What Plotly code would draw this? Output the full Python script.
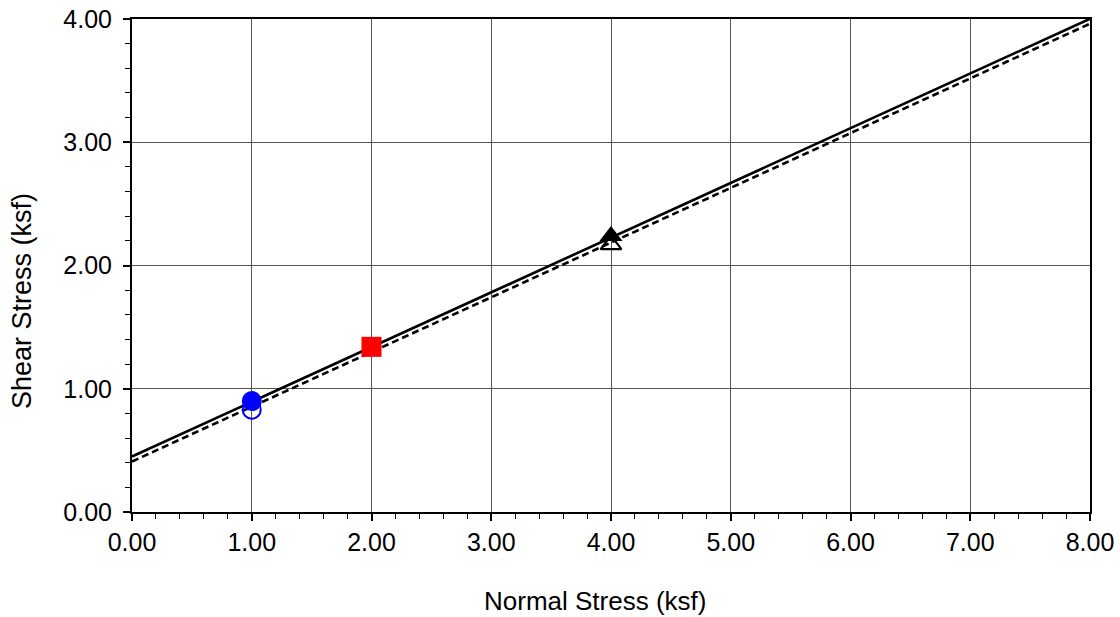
import plotly.graph_objects as go

# Data
x_circle = [1.0]
y_circle_filled = [0.90]
y_circle_open = [0.83]
x_square = [2.0]
y_square = [1.34]
x_tri = [4.0]
y_tri_filled = [2.24]
y_tri_open = [2.17]

line_x = [0.0, 8.0]
solid_intercept, solid_slope = 0.45, 0.444
dashed_intercept, dashed_slope = 0.41, 0.444

x_title = "Normal Stress (ksf)"
y_title = "Shear Stress (ksf)"

solid_y = [solid_intercept + solid_slope * v for v in line_x]
dashed_y = [dashed_intercept + dashed_slope * v for v in line_x]

fig = go.Figure()
fig.add_trace(go.Scatter(x=line_x, y=solid_y, mode="lines",
                         line=dict(color="black", width=2.6), showlegend=False))
fig.add_trace(go.Scatter(x=line_x, y=dashed_y, mode="lines",
                         line=dict(color="black", width=2.6, dash="7px,4px"), showlegend=False))

fig.add_trace(go.Scatter(x=x_circle, y=y_circle_open, mode="markers",
                         marker=dict(symbol="circle-open", size=18, color="blue", line=dict(width=2, color="blue")),
                         showlegend=False))
fig.add_trace(go.Scatter(x=x_circle, y=y_circle_filled, mode="markers",
                         marker=dict(symbol="circle", size=20, color="blue"), showlegend=False))
fig.add_trace(go.Scatter(x=x_square, y=y_square, mode="markers",
                         marker=dict(symbol="square", size=20, color="red"), showlegend=False))
fig.add_trace(go.Scatter(x=x_tri, y=y_tri_open, mode="markers",
                         marker=dict(symbol="triangle-up-open", size=18, color="black", line=dict(width=2.2, color="black")),
                         showlegend=False))
fig.add_trace(go.Scatter(x=x_tri, y=y_tri_filled, mode="markers",
                         marker=dict(symbol="triangle-up", size=20, color="black"), showlegend=False))

family = "Liberation Sans, Arial, sans-serif"
font = dict(family=family, size=25, color="black")

fig.update_layout(
    width=1120, height=617,
    margin=dict(l=132, r=30, t=19, b=105),
    paper_bgcolor="white", plot_bgcolor="white",
    font=font,
    hovermode=False,
    xaxis=dict(range=[0, 8], dtick=1, tickformat=".2f", showgrid=True, gridcolor="#555555", gridwidth=1,
               showline=True, linecolor="black", linewidth=2, mirror=True,
               ticks="outside", ticklen=7, tickwidth=2, tickcolor="black",
               minor=dict(dtick=0.2, ticks="outside", ticklen=5, tickwidth=1, tickcolor="black", showgrid=False),
               zeroline=False, tickfont=dict(size=25, family=family), ticklabeloverflow="allow",
               automargin=False),
    yaxis=dict(range=[0, 4], dtick=1, tickformat=".2f", showgrid=True, gridcolor="#555555", gridwidth=1,
               showline=True, linecolor="black", linewidth=2, mirror=True,
               ticks="outside", ticklen=7, tickwidth=2, tickcolor="black",
               minor=dict(dtick=0.2, ticks="outside", ticklen=5, tickwidth=1, tickcolor="black", showgrid=False),
               zeroline=False, tickfont=dict(size=25, family=family), ticklabeloverflow="allow",
               ticklabelstandoff=6, automargin=False),
    annotations=[
        dict(text=x_title, xref="paper", yref="paper", x=0.4833, y=-0.18,
             xanchor="center", yanchor="middle", showarrow=False, font=dict(size=26, family=family)),
        dict(text=y_title, xref="paper", yref="paper", x=-0.1148, y=0.428, textangle=-90,
             xanchor="center", yanchor="middle", showarrow=False, font=dict(size=27, family=family)),
    ],
)

fig.write_html("out.html", config={"displayModeBar": False},
               post_script="document.body.style.margin='0px';")
